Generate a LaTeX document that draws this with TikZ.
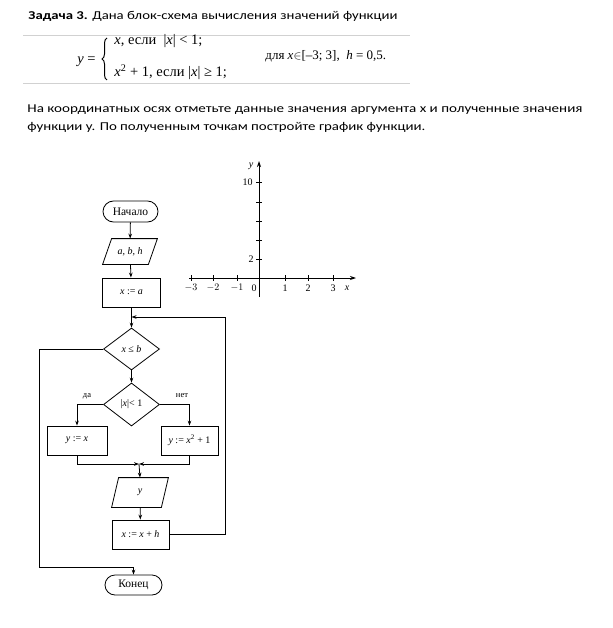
\documentclass[tikz,border=0pt]{standalone}
\usepackage{fontspec}
\usepackage{graphicx}
\setmainfont{Liberation Serif}
\newfontfamily\calib{Carlito}
\usetikzlibrary{arrows.meta,shapes.geometric,shapes.misc,calc,decorations.pathreplacing}
\begin{document}
\begin{tikzpicture}[x=1pt,y=-1pt,
  line width=0.8pt,
  >={Stealth[length=5pt,width=3.6pt]},
  term/.style={draw,rounded rectangle,minimum width=55pt,minimum height=21pt,inner sep=0pt,font=\fontsize{11.5}{12}\selectfont},
  proc/.style={draw,rectangle,minimum width=58pt,minimum height=29pt,inner sep=0pt,font=\fontsize{10}{11}\selectfont},
  io/.style={rectangle,minimum width=54pt,minimum height=25pt,inner sep=0pt,font=\fontsize{10}{11}\selectfont},
  dec/.style={draw,diamond,minimum width=56pt,minimum height=42pt,inner sep=0pt,font=\fontsize{10}{11}\selectfont},
  lbl/.style={font=\fontsize{8.5}{9}\selectfont,inner sep=0pt},
  txt/.style={anchor=base west,inner sep=0pt},
  frm/.style={inner sep=0pt,font=\fontsize{14.5}{16}\selectfont},
  axlbl/.style={inner sep=0pt,font=\fontsize{10}{11}\selectfont},
  rule/.style={draw=black!18,line width=0.8pt},
  axis/.style={line width=0.9pt,-{Stealth[length=6pt,width=4pt]}}
]
\useasboundingbox (0,0) rectangle (612,628);

% ---- header text ----
\node[txt] (title) at (28,20) {\resizebox{369pt}{\height}{\calib\fontsize{12}{14}\selectfont\textbf{Задача 3.} Дана блок-схема вычисления значений функции}};

\draw[rule] (23,35) -- (410,35);
\draw[rule] (23,83) -- (410,83);

\node[frm,anchor=base east] (yeq) at (96,64) {\textit{y} =};
\coordinate (brb) at (107,80);
\coordinate (brt) at (107,38);
\draw[line width=1pt,decorate,decoration={brace,amplitude=5pt}] (brb) -- (brt);
\node[frm,anchor=base west] (c1) at (114,45) {\textit{x}, если\enspace |\textit{x}| < 1;};
\node[frm,anchor=base west] (c2) at (114,77) {\textit{x}\textsuperscript{2} + 1, если |\textit{x}| ≥ 1;};
\node[frm,anchor=base west,font=\fontsize{13}{15}\selectfont] (dom) at (265,60) {для \textit{x}$\in$[–3; 3],\enspace \textit{h} = 0,5.};

\node[txt] (par1) at (27,113) {\resizebox{555pt}{\height}{\calib\fontsize{12}{14}\selectfont На координатных осях отметьте данные значения аргумента x и полученные значения}};
\node[txt] (par2) at (27,131) {\resizebox{398pt}{\height}{\calib\fontsize{12}{14}\selectfont функции y. По полученным точкам постройте график функции.}};

% ---- flowchart ----
\node[term] (start) at (130.5,211.5) {Начало};
\node[io] (in) at (130,251.5) {\textit{a, b, h}};
\draw ($(in.north west)+(9,0)$) -- (in.north east) -- ($(in.south east)+(-9,0)$) -- (in.south west) -- cycle;
\node[proc] (init) at (131.5,292.5) {\textit{x} := \textit{a}};
\coordinate (join) at (131.5,317);
\node[dec] (cond) at (131.5,349) {\textit{x} ≤ \textit{b}};
\node[dec,minimum height=43pt] (abs) at (131.5,404.5) {|\textit{x}|< 1};
\node[proc,minimum width=60pt] (yx) at (77,440.5) {\textit{y} := \textit{x}};
\node[proc,minimum width=57pt] (yx2) at (189.5,440.5) {\textit{y} := \textit{x}\textsuperscript{2} + 1};
\coordinate (merge) at (139,464);
\node[io,minimum width=56pt,minimum height=29pt] (out) at (140,492.5) {\textit{y}};
\draw ($(out.north west)+(7,0)$) -- (out.north east) -- ($(out.south east)+(-7,0)$) -- (out.south west) -- cycle;
\node[proc,minimum width=57pt] (inc) at (140.5,534.5) {\textit{x} := \textit{x} + \textit{h}};
\node[term,minimum width=57pt,minimum height=20pt] (end) at (133.5,585) {Конец};
\coordinate (loopR) at (225,317);
\coordinate (exitL) at (39,567);

\node[lbl] (yes) at (87,396) {да};
\node[lbl] (no) at (182,396) {нет};

\draw[->] (start) -- (in);
\draw[->] (in) -- (init);
\draw[->] (init) -- (cond);
\draw[->] (inc.east) -| (loopR) -- (join);
\draw[->] (cond.west) -| (exitL) -| (end.north);
\draw[->] (cond) -- (abs);
\draw[->] (abs.west) -| (yx.north);
\draw[->] (abs.east) -| (yx2.north);
\draw[->] (yx.south) |- (merge);
\draw[->] (yx2.south) |- (merge);
\draw[->] (merge) -- (out.north);
\draw[->] (out) -- (inc);

% ---- axes ----
\coordinate (xl) at (189,278);
\coordinate (xr) at (356,278);
\coordinate (yb) at (259,297);
\coordinate (yt) at (259,161);
\draw[axis] (xl) -- (xr);
\draw[axis] (yb) -- (yt);
\foreach \xx/\lab in {191/$-3$,213/$-2$,237/$-1$,285/1,308/2,333/3}{
  \draw[line width=0.8pt] (\xx,275) -- (\xx,281);
  \node[axlbl] at (\xx,288) {\lab};
}
\node[axlbl] (zero) at (254,288) {0};
\node[axlbl] (xlab) at (347,288) {\textit{x}};
\foreach \yy in {259,240,221,202,182}{
  \draw[line width=0.8pt] (256,\yy) -- (262,\yy);
}
\node[axlbl,anchor=east] (two) at (254,259) {2};
\node[axlbl,anchor=east] (ten) at (253,182) {10};
\node[axlbl] (ylab) at (251,166) {\textit{y}};
\end{tikzpicture}
\end{document}
